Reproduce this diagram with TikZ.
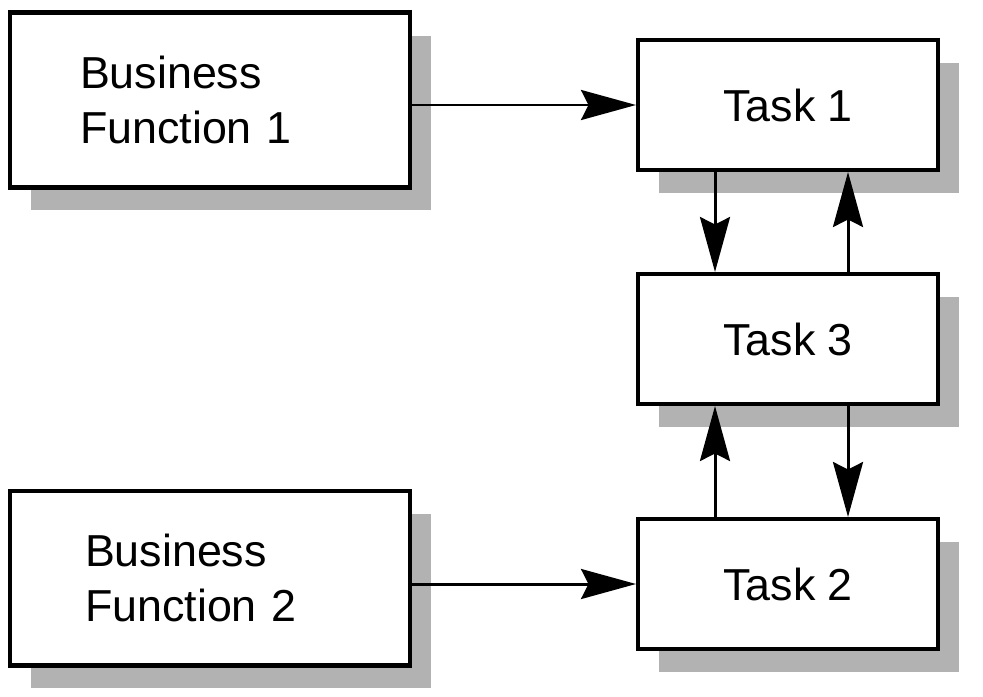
\documentclass[tikz,border=0pt]{standalone}
\usepackage{fontspec}
\setmainfont{Liberation Sans}
\usetikzlibrary{shadows,arrows.meta}
\begin{document}
\begin{tikzpicture}[x=0.02cm,y=-0.02cm]
	\tikzstyle{box}=[draw=black,line width=2.3pt,fill=white,
		drop shadow={shadow xshift=0.42cm,shadow yshift=-0.46cm,fill=black!30,opacity=1},
		font=\fontsize{25.5}{31}\selectfont]
	\tikzstyle{func}=[box,minimum width=8cm,minimum height=3.5cm,text width=5.2cm,align=left]
	\tikzstyle{task}=[box,minimum width=6cm,minimum height=2.6cm]
	\tikzstyle{link}=[line width=1.7pt,-{Stealth[length=1.1cm,width=0.6cm,inset=0.15cm]}]
	\useasboundingbox (0,0) rectangle (983,696);
	\node [func] (bf1) at (210,100) {Business\\Function 1};
	\node [func] (bf2) at (210,578) {\hspace*{0.1cm}Business\\\hspace*{0.1cm}Function 2};
	\node [task] (t1) at (788,105) {Task 1};
	\node [task] (t3) at (788,339) {Task 3};
	\node [task] (t2) at (788,584) {Task 2};
	\draw [link] (bf1.east |- t1.west) -- (t1.west);
	\draw [link] (bf2.east |- t2.west) -- (t2.west);
	\draw [link] (t1.south -| 715,0) -- (t3.north -| 715,0);
	\draw [link] (t3.north -| 848,0) -- (t1.south -| 848,0);
	\draw [link] (t2.north -| 715,0) -- (t3.south -| 715,0);
	\draw [link] (t3.south -| 848,0) -- (t2.north -| 848,0);
\end{tikzpicture}
\end{document}
